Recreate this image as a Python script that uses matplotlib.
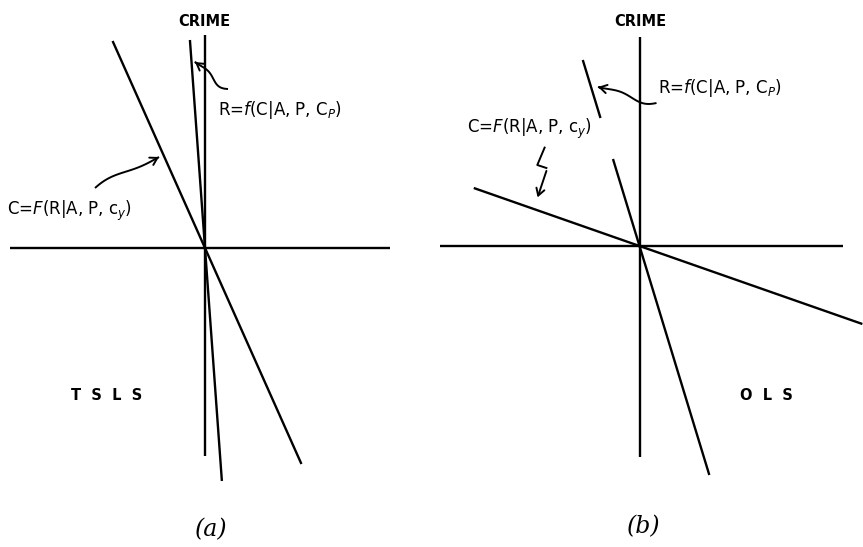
import numpy as np
import matplotlib
matplotlib.use("Agg")
import matplotlib.pyplot as plt

# Two sketch panels: TSLS estimates (a) and OLS estimates (b).
panels = ["(a)", "(b)"]
methods = ["TSLS", "OLS"]
axis_name = "CRIME"

# slopes (rise over run) of the two schedules
slope_r = [-13.8, -3.28]   # R = f(C | A, P, C_P)
slope_c = [-2.24, -0.35]   # C = F(R | A, P, c_y)
# vertical reach of each schedule above / below the origin
r_span = [(208, -233), (186, -229)]
c_span = [(207, -216), (58, -78)]
# part of the R schedule in (b) left blank behind its label
r_gap = [None, (128, 87)]

label_r = r"R=$f$(C|A, P, C$_P$)"
label_c = r"C=$F$(R|A, P, c$_y$)"

# axes reach (left, right, top, bottom) around the origin
axis_reach = [(-195, 185, 213, -208), (-199.5, 203.5, 209, -211)]

W, H = 863, 547
origins = [(205, 248), (639.5, 246)]   # pixel position of each origin

fig = plt.figure(figsize=(W / 100, H / 100), dpi=100)
ax = fig.add_axes([0, 0, 1, 1])
ax.set_xlim(0, W)
ax.set_ylim(H, 0)
ax.set_axis_off()

LW = 1.7
txt = dict(color="black", fontsize=12, family="DejaVu Sans")
arrow = "->,head_length=0.5,head_width=0.3"


def to_px(i, x, y):
    ox, oy = origins[i]
    return ox + x, oy - y


def draw_line(i, xs, ys, lw=LW):
    px = [to_px(i, x, y) for x, y in zip(xs, ys)]
    ax.plot([p[0] for p in px], [p[1] for p in px], color="black",
            lw=lw, solid_capstyle="butt")


def squiggle(i, start, end, amp=4.0, waves=1.0):
    # wavy pointer line finished with an open arrow head
    t = np.linspace(0, 1, 40)
    x0, y0 = start
    x1, y1 = end
    dx, dy = x1 - x0, y1 - y0
    L = np.hypot(dx, dy)
    nx_, ny_ = -dy / L, dx / L
    off = amp * np.sin(2 * np.pi * waves * t) * (1 - t)
    xs = x0 + dx * t + nx_ * off
    ys = y0 + dy * t + ny_ * off
    draw_line(i, xs, ys, lw=1.4)
    ax.annotate("", xy=to_px(i, x1, y1), xytext=to_px(i, xs[-4], ys[-4]),
                arrowprops=dict(arrowstyle=arrow, color="black", lw=1.4))


def schedule(i, slope, span, gap=None):
    y_top, y_bot = span
    if gap is None:
        draw_line(i, [y_top / slope, y_bot / slope], [y_top, y_bot])
    else:
        g1, g2 = gap
        draw_line(i, [y_top / slope, g1 / slope], [y_top, g1])
        draw_line(i, [g2 / slope, y_bot / slope], [g2, y_bot])


for i in range(2):
    left, right, top, bottom = axis_reach[i]
    draw_line(i, [left, right], [0, 0])
    draw_line(i, [0, 0], [top, bottom])
    schedule(i, slope_r[i], r_span[i], r_gap[i])
    schedule(i, slope_c[i], c_span[i])

crime_pos = [(-1, 227), (1, 225)]
label_r_pos = [(13, 138), (18.5, 158)]
label_c_pos = [(-198, 37), (-172.5, 117)]
method_pos = [(-98, -147), (126.5, -149)]
panel_pos = [(6, -282), (4.5, -281)]

for i in range(2):
    ax.text(*to_px(i, *crime_pos[i]), axis_name, ha="center", va="center",
            color="black", fontsize=10.5, fontweight="bold",
            family="DejaVu Sans")
    ax.text(*to_px(i, *label_r_pos[i]), label_r, ha="left", va="center",
            **txt)
    ax.text(*to_px(i, *label_c_pos[i]), label_c, ha="left", va="center",
            **txt)
    ax.text(*to_px(i, *method_pos[i]), "  ".join(methods[i]), ha="center",
            va="center", fontweight="bold", color="black", fontsize=10.5,
            family="DejaVu Sans")
    ax.text(*to_px(i, *panel_pos[i]), panels[i], ha="center", va="center",
            color="black", fontsize=17, family="DejaVu Serif", style="italic")

# pointers from the labels to their schedules
squiggle(0, (23, 159), (-10, 186), amp=5)
squiggle(0, (-110, 60), (-46, 91), amp=4, waves=0.8)
squiggle(1, (17, 143), (-41.5, 159), amp=5)
bolt_x = [-94.5, -102.2, -92.2, -102.8]
bolt_y = [99.3, 81, 77.7, 46]
draw_line(1, bolt_x[:-1], bolt_y[:-1], lw=1.4)
ax.annotate("", xy=to_px(1, bolt_x[-1], bolt_y[-1]),
            xytext=to_px(1, bolt_x[-2], bolt_y[-2]),
            arrowprops=dict(arrowstyle=arrow, color="black", lw=1.4))

fig.savefig("out.png", dpi=100, facecolor="white")
